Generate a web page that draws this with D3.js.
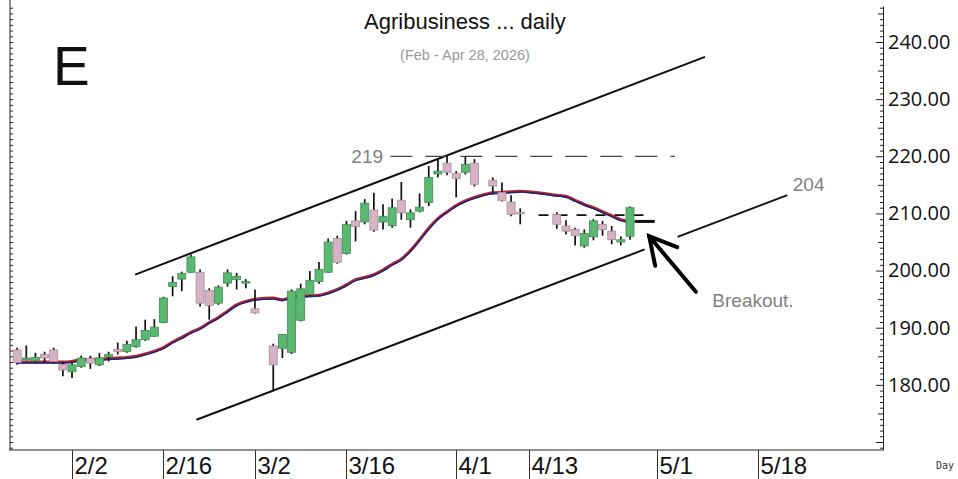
<!DOCTYPE html>
<html>
<head>
<meta charset="utf-8">
<script src="https://cdn.jsdelivr.net/npm/d3@7"></script>
<style>
  html, body { margin: 0; padding: 0; background: #fff; }
  svg { display: block; }
</style>
</head>
<body>
<div id="chart"></div>
<script>
// daily bars (missing sessions are simply absent)
const dates = [
  "2026-01-23","2026-01-26","2026-01-27","2026-01-28","2026-01-29","2026-01-30",
  "2026-02-02","2026-02-03","2026-02-04","2026-02-05","2026-02-06",
  "2026-02-09","2026-02-10","2026-02-11","2026-02-12","2026-02-13",
  "2026-02-16","2026-02-17","2026-02-18","2026-02-19","2026-02-20",
  "2026-02-23","2026-02-24","2026-02-25","2026-02-26","2026-02-27",
  "2026-03-02","2026-03-04","2026-03-05","2026-03-06",
  "2026-03-09","2026-03-10","2026-03-11","2026-03-12","2026-03-13",
  "2026-03-16","2026-03-17","2026-03-18","2026-03-19","2026-03-20",
  "2026-03-23","2026-03-24","2026-03-25","2026-03-26","2026-03-27",
  "2026-03-30","2026-03-31","2026-04-01","2026-04-02","2026-04-03",
  "2026-04-07","2026-04-08","2026-04-09","2026-04-10",
  "2026-04-16","2026-04-17",
  "2026-04-20","2026-04-21","2026-04-22","2026-04-23","2026-04-24",
  "2026-04-27","2026-04-28"
];
const opens = [
  186.1, 184.4, 184.2, 185.3, 186.1, 183.6,
  182.3, 183.2, 184.6, 183.5, 184.9,
  186.2, 185.8, 186.7, 187.9, 188.5,
  190.9, 197.2, 198.5, 199.7, 199.7,
  196.5, 194.3, 197.8, 198.4, 197.8,
  193.3, 186.8, 186.4, 185.7,
  191.3, 195.8, 198.1, 199.7, 205.6,
  203.0, 208.7, 208.5, 210.6, 208.5,
  207.9, 212.3, 208.9, 210.4, 211.9,
  216.9, 218.8, 217.0, 217.2, 218.8,
  215.8, 213.7, 212.0, 210.2,
  209.8, 207.8,
  207.2, 204.3, 205.9, 208.1, 206.9,
  205.0, 206.0
];
const highs = [
  186.5, 186.9, 185.6, 185.8, 186.5, 184.0,
  183.9, 185.1, 185.1, 185.6, 185.8,
  187.4, 187.7, 190.2, 191.4, 191.5,
  195.4, 199.0, 199.8, 202.8, 200.2,
  196.9, 197.4, 200.2, 199.6, 198.5,
  196.7, 187.2, 188.9, 196.7,
  197.7, 199.9, 201.5, 205.6, 206.1,
  208.7, 210.4, 212.5, 213.6, 211.6,
  212.6, 215.5, 210.7, 213.5, 218.3,
  219.5, 220.1, 217.4, 220.0, 219.5,
  216.3, 215.4, 213.2, 210.9,
  210.2, 208.8,
  207.5, 207.2, 209.0, 208.7, 207.8,
  206.0, 211.2
];
const lows = [
  183.5, 184.3, 184.0, 184.0, 183.9, 181.5,
  181.2, 183.0, 182.8, 183.3, 184.1,
  185.3, 185.6, 186.5, 187.7, 188.4,
  190.8, 195.5, 196.4, 199.6, 193.7,
  191.4, 194.0, 197.2, 196.7, 196.9,
  192.5, 179.0, 184.7, 185.4,
  191.1, 195.6, 197.7, 199.6, 201.2,
  202.8, 205.1, 208.1, 206.8, 207.2,
  207.5, 208.9, 207.5, 210.2, 211.3,
  216.3, 216.7, 212.8, 216.8, 214.7,
  213.6, 212.1, 209.5, 208.1,
  207.3, 206.3,
  204.4, 204.0, 205.3, 206.1, 204.6,
  204.4, 205.4
];
const closes = [
  183.9, 184.7, 184.8, 184.7, 184.1, 182.6,
  183.5, 184.7, 183.8, 184.7, 185.3,
  185.8, 187.1, 187.9, 189.5, 190.1,
  195.2, 197.9, 199.5, 202.4, 194.3,
  193.9, 197.1, 199.6, 199.0, 198.1,
  192.6, 183.5, 188.8, 196.4,
  196.8, 198.3, 200.2, 205.0, 201.4,
  208.1, 207.7, 211.8, 207.1, 209.5,
  211.0, 210.1, 210.1, 211.1, 216.3,
  217.4, 217.2, 216.1, 218.6, 215.1,
  214.8, 212.3, 209.8, 210.0,
  208.1, 206.9,
  206.1, 206.5, 208.7, 207.2, 205.4,
  205.4, 211.0
];
// moving average
const movingAvg = [
  184.0, 184.0, 184.0, 184.0, 184.0, 184.0,
  184.1, 184.4, 184.5, 184.5, 184.6,
  184.7, 184.8, 185.0, 185.4, 185.9,
  186.5, 187.5, 188.3, 189.2, 189.9,
  190.9, 191.8, 192.9, 194.0, 194.6,
  195.0, 195.2, 194.9, 195.4,
  195.5, 195.6, 195.7, 196.1, 196.7,
  197.5, 198.4, 198.8, 199.3, 200.1,
  201.1, 202.0, 203.5, 205.4, 207.4,
  209.1, 210.3, 211.4, 212.2, 212.8,
  213.6, 213.7, 213.8, 213.9,
  213.2, 213.0,
  212.3, 211.6, 211.0, 210.3, 209.6,
  208.9, 208.6
];
const maTail = [{bar: 61.5, price: 208.6}, {bar: 63.7, price: 208.6}];

const tickDates = ["2026-02-02","2026-02-16","2026-03-02","2026-03-16","2026-04-01","2026-04-13","2026-05-01","2026-05-18"];
const tickLabels = ["2/2","2/16","3/2","3/16","4/1","4/13","5/1","5/18"];
const priceTicks = [180, 190, 200, 210, 220, 230, 240];

// hand-drawn annotations, in (bar, price) terms
const channelUpper = [{bar: 6.9, price: 199.3}, {bar: 69.2, price: 237.4}];
const channelLower = [
  [{bar: 13.6, price: 173.9}, {bar: 62.6, price: 203.7}],
  [{bar: 66.2, price: 205.9}, {bar: 78.2, price: 213.2}]
];
const resistance = {price: 220, from: 34.8, to: 65.9, label: "219", labelBar: 34.0};
const support = {price: 209.7, from: 51.0, to: 63.4};
const channelNote = {text: "204", bar: 78.8, price: 215.1};
const arrow = {from: {bar: 68.2, price: 196.3}, to: {bar: 63.1, price: 206.0}};
const breakoutNote = {text: "Breakout.", bar: 70.0, price: 193.6};

const W = 958, H = 479;
const plotLeft = 10, plotRight = 883, plotTop = 6, plotBottom = 450;

// weekday count from Mon 2 Feb 2026
const base = new Date("2026-02-02T00:00:00Z");
function barIndex(s) {
  const days = Math.round((new Date(s + "T00:00:00Z") - base) / 864e5);
  const weeks = Math.floor(days / 7);
  return weeks * 5 + Math.min(days - weeks * 7, 5);
}

const bars = dates.map((d, i) => ({
  bar: barIndex(d), open: opens[i], high: highs[i], low: lows[i], close: closes[i], ma: movingAvg[i]
}));

const x = d3.scaleLinear().domain([-6.78, 88.66]).range([plotLeft, plotRight]);
const y = d3.scaleLinear().domain([168.6, 246.3]).range([plotBottom, plotTop]);

const svg = d3.select("#chart").append("svg")
  .attr("width", W).attr("height", H)
  .style("font-family", "'Liberation Sans', Arial, sans-serif");

svg.append("rect").attr("width", W).attr("height", H).attr("fill", "#fff");

// frame + axes
const minorVals = d3.range(169, 247);
svg.append("g").attr("transform", `translate(${plotRight},0)`)
  .call(d3.axisLeft(y).tickValues(minorVals).tickSizeInner(3).tickSizeOuter(0).tickFormat(""))
  .call(g => g.selectAll(".tick line").attr("x2", d => d % 10 === 0 ? -7 : d % 5 === 0 ? -5 : -3))
  .call(g => g.selectAll("path,line").attr("stroke", "#222"));

svg.append("g").attr("transform", `translate(${plotRight},0)`)
  .call(d3.axisRight(y).tickValues(priceTicks).tickSize(0).tickPadding(5).tickFormat(d3.format(".2f")))
  .call(g => g.select(".domain").remove())
  .call(g => g.selectAll("text")
    .attr("font-family", "'Open Sans', 'Noto Sans', sans-serif")
    .attr("font-size", 20).attr("fill", "#111"));

svg.append("g").attr("transform", `translate(${plotLeft},0)`)
  .call(d3.axisRight(y).tickValues(minorVals).tickSizeInner(3).tickSizeOuter(0).tickFormat(""))
  .call(g => g.select(".domain").attr("d", `M0,0V${plotBottom}`))
  .call(g => g.selectAll("path,line").attr("stroke", "#222"));

svg.append("line")
  .attr("x1", plotLeft - 1).attr("x2", plotRight)
  .attr("y1", plotBottom).attr("y2", plotBottom)
  .attr("stroke", "#222");

const xt = svg.append("g");
tickDates.forEach((d, i) => {
  const px = Math.round(x(barIndex(d))) + 0.5;
  xt.append("line").attr("x1", px).attr("x2", px).attr("y1", plotBottom).attr("y2", H)
    .attr("stroke", "#333").attr("stroke-width", 1);
  xt.append("text").attr("x", px + 2).attr("y", 474)
    .attr("font-family", "'Liberation Sans Narrow', 'Arial Narrow', sans-serif")
    .attr("font-size", 24).attr("fill", "#111")
    .text(tickLabels[i]);
});
svg.append("text").attr("x", 936).attr("y", 469)
  .attr("font-family", "'DejaVu Sans Mono', monospace").attr("font-size", 10)
  .attr("fill", "#333").text("Day");

// titles
svg.append("text").attr("x", 465).attr("y", 29).attr("text-anchor", "middle")
  .attr("font-size", 22).attr("fill", "#111").text("Agribusiness ... daily");
svg.append("text").attr("x", 465).attr("y", 60).attr("text-anchor", "middle")
  .attr("font-size", 14.5).attr("fill", "#999").text("(Feb - Apr 28, 2026)");
svg.append("text").attr("x", 53).attr("y", 85)
  .attr("font-size", 55).attr("fill", "#111").text("E");

// channel lines
const seg = d3.line().x(d => x(d.bar)).y(d => y(d.price));
svg.append("path").attr("d", seg(channelUpper))
  .attr("stroke", "#111").attr("stroke-width", 2).attr("fill", "none");
channelLower.forEach(s => svg.append("path").attr("d", seg(s))
  .attr("stroke", "#111").attr("stroke-width", 2).attr("fill", "none"));

// resistance / support levels
svg.append("line")
  .attr("x1", x(resistance.from)).attr("x2", x(resistance.to))
  .attr("y1", y(resistance.price)).attr("y2", y(resistance.price))
  .attr("stroke", "#444").attr("stroke-width", 1.2).attr("stroke-dasharray", "22,13");
svg.append("text").attr("x", x(resistance.labelBar)).attr("y", y(resistance.price))
  .attr("dy", "0.35em").attr("text-anchor", "end")
  .attr("font-size", 19).attr("fill", "#808080").text(resistance.label);

svg.append("line")
  .attr("x1", x(support.from)).attr("x2", x(support.to))
  .attr("y1", y(support.price)).attr("y2", y(support.price))
  .attr("stroke", "#111").attr("stroke-width", 1.6).attr("stroke-dasharray", "10,9");

svg.append("text").attr("x", x(channelNote.bar)).attr("y", y(channelNote.price))
  .attr("dy", "0.35em").attr("font-size", 19).attr("fill", "#808080").text(channelNote.text);

// moving average
const maLine = d3.line().curve(d3.curveMonotoneX).x(d => x(d.bar)).y(d => y(d.ma));
svg.append("path").attr("d", d3.line().x(d => x(d.bar)).y(d => y(d.price))(maTail))
  .attr("stroke", "#111").attr("stroke-width", 3).attr("fill", "none");
svg.append("path").attr("d", maLine(bars))
  .attr("stroke", "#b3262e").attr("stroke-width", 3).attr("fill", "none");
svg.append("path").attr("d", maLine(bars)).attr("transform", "translate(0,0.9)")
  .attr("stroke", "#1d237a").attr("stroke-width", 1.5).attr("fill", "none");

// candles
const bw = 8;
const c = svg.append("g").selectAll("g").data(bars).join("g");
c.append("line")
  .attr("x1", d => x(d.bar)).attr("x2", d => x(d.bar))
  .attr("y1", d => y(d.high)).attr("y2", d => y(d.low))
  .attr("stroke", "#111").attr("stroke-width", 1.7);
c.append("rect")
  .attr("x", d => x(d.bar) - bw / 2).attr("width", bw)
  .attr("y", d => y(Math.max(d.open, d.close)))
  .attr("height", d => Math.max(1.5, Math.abs(y(d.open) - y(d.close))))
  .attr("fill", d => d.close >= d.open ? "#5bb871" : "#d5b3c4")
  .attr("stroke", d => d.close >= d.open ? "#3f8d52" : "#a88c9a")
  .attr("stroke-width", 0.8);

// arrow
const ax1 = x(arrow.from.bar), ay1 = y(arrow.from.price);
const ax2 = x(arrow.to.bar), ay2 = y(arrow.to.price);
const ang = Math.atan2(ay1 - ay2, ax1 - ax2);
const head = 30, spread = 0.5;
svg.append("line").attr("x1", ax1).attr("y1", ay1).attr("x2", ax2).attr("y2", ay2)
  .attr("stroke", "#000").attr("stroke-width", 4).attr("stroke-linecap", "round");
svg.append("path")
  .attr("d", `M${ax2 + head * Math.cos(ang + spread)},${ay2 + head * Math.sin(ang + spread)}` +
             `L${ax2},${ay2}L${ax2 + head * Math.cos(ang - spread)},${ay2 + head * Math.sin(ang - spread)}`)
  .attr("stroke", "#000").attr("stroke-width", 4).attr("fill", "none")
  .attr("stroke-linecap", "round").attr("stroke-linejoin", "miter");
svg.append("text").attr("x", x(breakoutNote.bar)).attr("y", y(breakoutNote.price))
  .attr("font-size", 19).attr("fill", "#808080").text(breakoutNote.text);
</script>
</body>
</html>
